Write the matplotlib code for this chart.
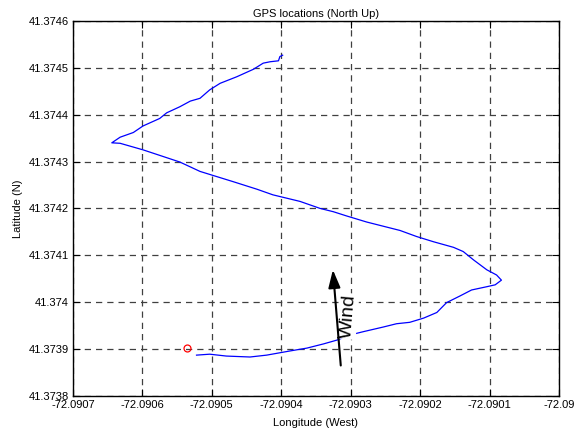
import matplotlib.pyplot as plt
import numpy as np

plt.rcParams['font.family'] = ['Liberation Sans', 'DejaVu Sans']
plt.rcParams['font.size'] = 8

# GPS track
lon = [-72.090522, -72.090503, -72.090479, -72.090445, -72.090421, -72.090387,
       -72.090363, -72.090339, -72.090320, -72.090301, -72.090282, -72.090253,
       -72.090234, -72.090215, -72.090195, -72.090176, -72.090162, -72.090143,
       -72.090126, -72.090104, -72.090092, -72.090083, -72.090090, -72.090104,
       -72.090123, -72.090138, -72.090152, -72.090181, -72.090205, -72.090229,
       -72.090277, -72.090306, -72.090325, -72.090344, -72.090373, -72.090412,
       -72.090435, -72.090469, -72.090517, -72.090546, -72.090599, -72.090632,
       -72.090644, -72.090632, -72.090613, -72.090599, -72.090575, -72.090565,
       -72.090546, -72.090531, -72.090517, -72.090503, -72.090488, -72.090464,
       -72.090440, -72.090426, -72.090416, -72.090404, -72.090402, -72.090398]
lat = [41.373887, 41.373889, 41.373885, 41.373883, 41.373887, 41.373896,
       41.373902, 41.373911, 41.373919, 41.373930, 41.373937, 41.373947,
       41.373954, 41.373957, 41.373966, 41.373978, 41.373999, 41.374013,
       41.374026, 41.374033, 41.374037, 41.374047, 41.374058, 41.374069,
       41.374090, 41.374108, 41.374117, 41.374129, 41.374140, 41.374153,
       41.374171, 41.374184, 41.374193, 41.374200, 41.374215, 41.374229,
       41.374241, 41.374257, 41.374279, 41.374299, 41.374325, 41.374339,
       41.374340, 41.374352, 41.374362, 41.374376, 41.374392, 41.374404,
       41.374417, 41.374429, 41.374435, 41.374453, 41.374467, 41.374481,
       41.374497, 41.374510, 41.374513, 41.374515, 41.374524, 41.374527]

start_lon, start_lat = -72.090535, 41.373902

# wind arrow
wind_tail = (-72.090314, 41.373859)
wind_tip = (-72.090326, 41.374075)
wind_text_pos = (-72.0903035, 41.373970)

xticks = [-72.0907, -72.0906, -72.0905, -72.0904, -72.0903, -72.0902, -72.0901, -72.09]
xticklabels = ['-72.0907', '-72.0906', '-72.0905', '-72.0904', '-72.0903',
               '-72.0902', '-72.0901', '-72.09']
yticks = [41.3738, 41.3739, 41.374, 41.3741, 41.3742, 41.3743, 41.3744, 41.3745, 41.3746]
yticklabels = ['41.3738', '41.3739', '41.374', '41.3741', '41.3742', '41.3743',
               '41.3744', '41.3745', '41.3746']

fig = plt.figure(figsize=(5.74, 4.28), dpi=100)
ax = fig.add_axes([0.127, 0.075, 0.847, 0.876])

ax.plot(lon, lat, color=(0, 0, 1), linewidth=0.9, zorder=3)
ax.plot(start_lon, start_lat, 'o', mfc='none', mec='red', ms=5, mew=0.9, zorder=3)

ax.annotate('', xy=wind_tip, xytext=wind_tail,
            arrowprops=dict(arrowstyle='-|>,head_length=0.9,head_width=0.3',
                            color='k', lw=1.5, mutation_scale=12), zorder=5)
ax.text(wind_text_pos[0], wind_text_pos[1], 'Wind', fontsize=14, rotation=85,
        ha='center', va='center', zorder=4,
        bbox=dict(facecolor='white', edgecolor='none', pad=0.5))

ax.set_xlim(-72.0907, -72.09)
ax.set_ylim(41.3738, 41.3746)
ax.set_xticks(xticks)
ax.set_xticklabels(xticklabels)
ax.set_yticks(yticks)
ax.set_yticklabels(yticklabels)
ax.tick_params(direction='in', length=5, top=True, right=True, pad=3)
ax.grid(True, color='0.25', linestyle=(0, (5, 4)), linewidth=0.9)
for s in ax.spines.values():
    s.set_linewidth(1.0)

ax.set_title('GPS locations (North Up)', fontsize=8, pad=3)
ax.set_xlabel('Longitude (West)', labelpad=6)
ax.set_ylabel('Latitude (N)', labelpad=4)

fig.savefig('out.png', dpi=100)
